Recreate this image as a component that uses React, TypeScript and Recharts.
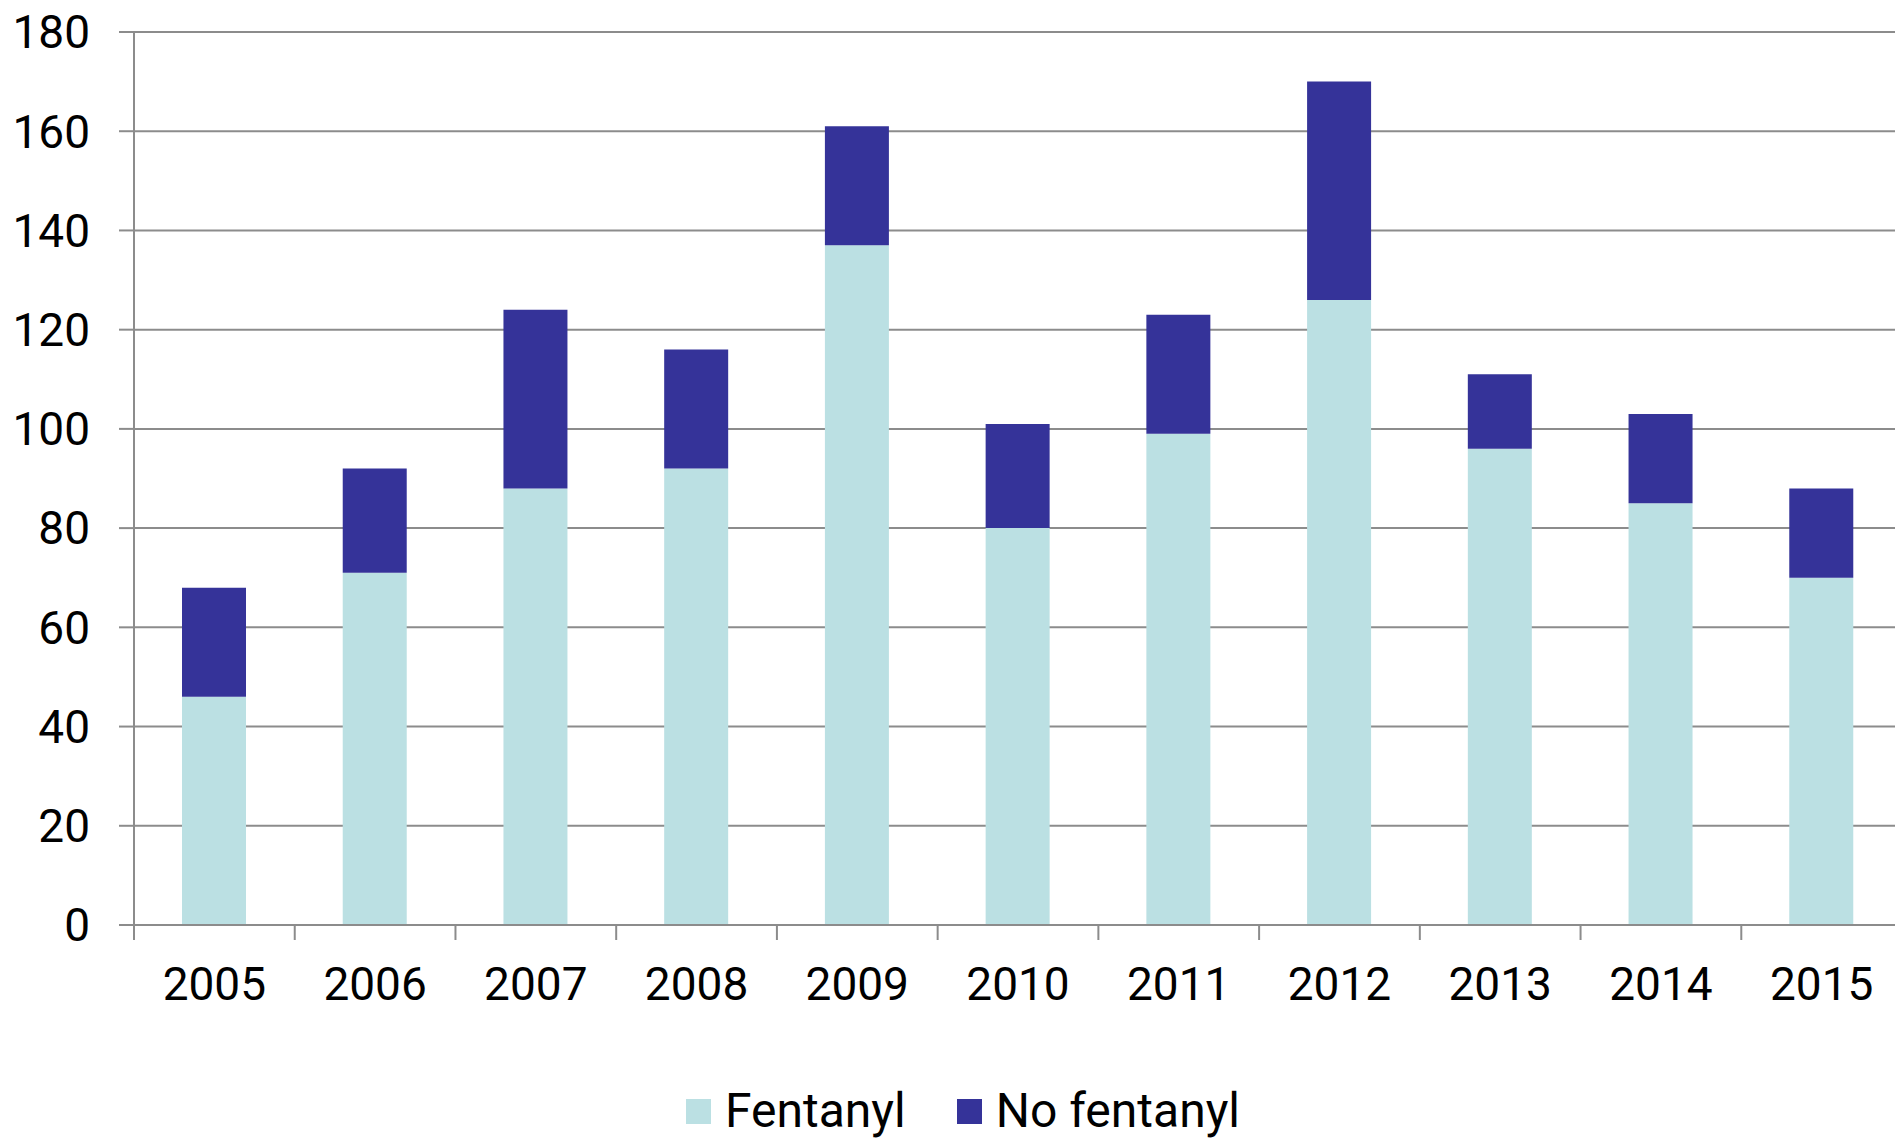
import React from 'react';
import { BarChart, Bar, XAxis, YAxis, CartesianGrid } from 'recharts';

const years = ['2005', '2006', '2007', '2008', '2009', '2010', '2011', '2012', '2013', '2014', '2015'];
const fentanyl = [46, 71, 88, 92, 137, 80, 99, 126, 96, 85, 70];
const noFentanyl = [22, 21, 36, 24, 24, 21, 24, 44, 15, 18, 18];
const yTicks = [0, 20, 40, 60, 80, 100, 120, 140, 160, 180];

const data = years.map((year, i) => ({ year, fentanyl: fentanyl[i], noFentanyl: noFentanyl[i] }));

const FONT = 'Roboto, "Liberation Sans", sans-serif';
const GRID = '#8c8c8c';
const LIGHT = '#bbe0e3';
const DARK = '#353399';
const BAND = 160.7;

// tick marks sit on the category boundaries, labels in the middle
const XTick = ({ x, y, payload }: any) => {
  const axisY = y - 59;
  return (
    <g>
      <line x1={x - BAND / 2} x2={x - BAND / 2} y1={axisY} y2={axisY + 15} stroke={GRID} strokeWidth={2} />
      <text x={x} y={y} dy="0.35em" textAnchor="middle" fill="#000" fontSize={46} fontFamily={FONT}>
        {payload.value}
      </text>
    </g>
  );
};

const LegendBox = ({ color, label, gap }: { color: string; label: string; gap: number }) => (
  <div style={{ display: 'flex', alignItems: 'center', marginRight: gap, height: 48 }}>
    <div style={{ width: 25, height: 25, background: color, marginRight: 14 }} />
    <span style={{ fontSize: 48, color: '#000', lineHeight: 1 }}>{label}</span>
  </div>
);

export default function App() {
  return (
    <div
      style={{
        position: 'absolute',
        left: 0,
        top: 0,
        width: 1895,
        height: 1141,
        overflow: 'hidden',
        background: '#fff',
        fontFamily: FONT,
      }}
    >
      <BarChart width={1907} height={1141} data={data} margin={{ top: 32, right: 5, left: 0, bottom: 0 }}>
        <CartesianGrid vertical={false} stroke={GRID} strokeWidth={2} />
        <XAxis
          dataKey="year"
          height={216}
          interval={0}
          tickSize={15}
          tickMargin={44}
          tickLine={false}
          axisLine={{ stroke: GRID, strokeWidth: 2 }}
          tick={<XTick />}
        />
        <YAxis
          width={134}
          domain={[0, 180]}
          ticks={yTicks}
          tickSize={15}
          tickMargin={29}
          axisLine={{ stroke: GRID, strokeWidth: 2 }}
          tickLine={{ stroke: GRID, strokeWidth: 2 }}
          tick={{ fill: '#000', fontSize: 46, fontFamily: FONT }}
        />
        <Bar dataKey="fentanyl" stackId="a" fill={LIGHT} barSize={64} isAnimationActive={false} />
        <Bar dataKey="noFentanyl" stackId="a" fill={DARK} barSize={64} isAnimationActive={false} />
      </BarChart>
      <div style={{ position: 'absolute', left: 686, top: 1087, display: 'flex' }}>
        <LegendBox color={LIGHT} label="Fentanyl" gap={51} />
        <LegendBox color={DARK} label="No fentanyl" gap={0} />
      </div>
    </div>
  );
}
